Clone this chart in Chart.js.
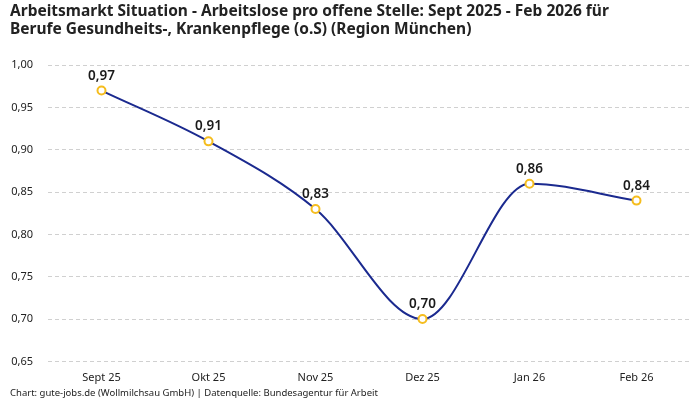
<!DOCTYPE html>
<html><head><meta charset="utf-8">
<script src="https://cdn.jsdelivr.net/npm/chart.js@4"></script>
<style>html,body{margin:0;padding:0;background:#fff}#w{width:700px;height:400px}</style>
</head><body><div id="w"><canvas id="c"></canvas></div>
<script>
const categories = ["Sept 25","Okt 25","Nov 25","Dez 25","Jan 26","Feb 26"];
const values = [0.97, 0.91, 0.83, 0.70, 0.86, 0.84];
const yTicks = [0.65, 0.70, 0.75, 0.80, 0.85, 0.90, 0.95, 1.00];
const titleLines = ["Arbeitsmarkt Situation - Arbeitslose pro offene Stelle: Sept 2025 - Feb 2026 für","Berufe Gesundheits-, Krankenpflege (o.S) (Region München)"];
const footerText = "Chart: gute-jobs.de (Wollmilchsau GmbH) | Datenquelle: Bundesagentur für Arbeit";
const FONT = "'Noto Sans', 'Open Sans', sans-serif";
const fmt = v => v.toFixed(2).replace('.', ',');

const labelPlugin = {
  id: 'pointLabels',
  afterDatasetsDraw(chart) {
    const ctx = chart.ctx;
    const meta = chart.getDatasetMeta(0);
    ctx.save();
    ctx.font = "600 13.5px " + FONT;
    ctx.fillStyle = "#1a1a1a";
    ctx.textAlign = "center";
    ctx.textBaseline = "bottom";
    meta.data.forEach((pt, i) => {
      ctx.fillText(fmt(values[i]), pt.x, pt.y - 8);
    });
    ctx.restore();
  }
};

new Chart(document.getElementById('c'), {
  type: 'line',
  data: {
    labels: categories,
    datasets: [{
      data: values,
      borderColor: '#1b2a8f',
      borderWidth: 2,
      cubicInterpolationMode: 'monotone',
      pointRadius: 4,
      pointBorderWidth: 2,
      pointBorderColor: '#f5bd1f',
      pointBackgroundColor: '#ffffff',
      fill: false
    }]
  },
  options: {
    responsive: true,
    maintainAspectRatio: false,
    animation: false,
    layout: { padding: { left: 10, right: 10, top: 0, bottom: 0 } },
    plugins: {
      legend: { display: false },
      tooltip: { enabled: false },
      title: {
        display: true,
        text: titleLines,
        align: 'start',
        color: '#222',
        font: { family: FONT, size: 15.5, weight: 'bold', lineHeight: 1.2 },
        padding: { top: 2, bottom: 26 }
      },
      subtitle: {
        display: true,
        text: footerText,
        position: 'bottom',
        align: 'start',
        color: '#222',
        font: { family: FONT, size: 9.5 },
        padding: { top: 1, bottom: 1 }
      }
    },
    scales: {
      x: {
        offset: true,
        grid: { display: false },
        border: { display: false },
        ticks: { color: '#222', font: { family: FONT, size: 11 }, padding: 2 }
      },
      y: {
        min: 0.65,
        max: 1.00,
        afterBuildTicks: s => { s.ticks = yTicks.map(v => ({ value: v })); },
        afterFit: s => { s.width = 38; },
        grid: { color: '#d0d0d0', drawTicks: false },
        border: { display: false, dash: [4, 3] },
        ticks: { color: '#222', font: { family: FONT, size: 11 }, padding: 15, callback: v => fmt(v) }
      }
    }
  },
  plugins: [labelPlugin]
});
</script></body></html>
